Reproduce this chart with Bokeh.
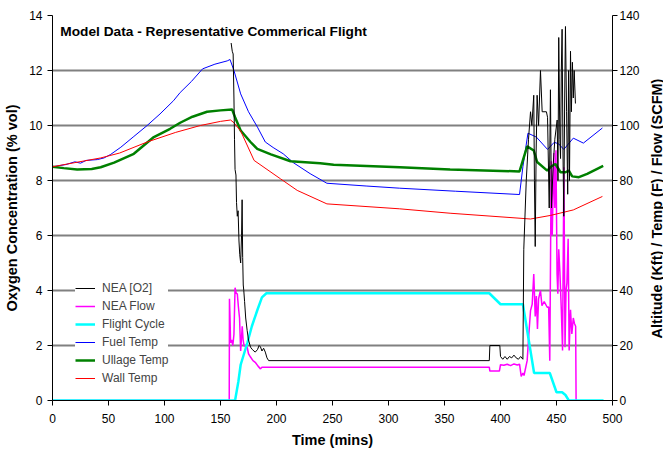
import math
from bokeh.plotting import figure
from bokeh.models import Range1d, LinearAxis, FixedTicker, Label, Legend, LegendItem
from bokeh.embed import file_html
from bokeh.resources import INLINE

# ---------------- data (time in minutes) ----------------
TIME_TICKS = list(range(0, 501, 50))
O2_TICKS = list(range(0, 15, 2))
RIGHT_TICKS = list(range(0, 141, 20))

TITLE = "Model Data - Representative Commerical Flight"
RIGHT_LABEL = "Altitude (Kft) / Temp (F) / Flow (SCFM)"

# NEA [O2]  (% vol, left axis)
NEA_O2 = [(159.5, 13.0), (160.5, 12.7), (161.3, 12.6), (162, 11.0), (162.5, 9.5), (163, 8.4),
          (163.8, 8.2), (164.3, 7.2), (165, 6.7), (165.7, 6.9), (166.5, 5.8), (167.2, 5.3),
          (168, 5.0), (168.8, 6.0), (169.3, 7.3), (169.8, 5.2), (170.3, 4.2), (170.8, 4.0),
          (171.5, 3.6), (172.5, 3.0), (173.8, 2.55), (175, 2.2), (176.8, 1.94), (178.5, 1.85),
          (181, 1.76), (183, 1.85), (184.5, 2.0), (185.7, 1.95), (187, 1.8), (188.5, 1.9),
          (190, 1.76), (191.5, 1.55), (193, 1.45), (390, 1.45), (390.5, 2.0), (399.4, 2.0),
          (400, 1.6), (402, 1.5), (404, 1.6), (406, 1.5), (408, 1.6), (410, 1.55), (412, 1.65),
          (414, 1.55), (416, 1.5), (418, 1.6), (420, 1.5), (420.8, 5.5), (423, 8.0), (425, 9.5),
          (426.8, 10.5), (428, 10.0), (429.7, 11.1), (430.3, 8.0), (431, 5.6), (431.8, 9.0),
          (432.7, 11.1), (434, 10.0), (435.7, 12.0), (437.2, 10.5), (441, 10.5), (442, 10.3),
          (443.5, 7.0), (444.6, 11.3), (445.5, 7.0), (447, 8.5), (448.5, 9.5), (450.6, 10.2),
          (451.3, 8.0), (452, 13.2), (453, 9.5), (453.6, 8.8), (454.3, 12.0), (455, 13.5),
          (455.8, 9.0), (456.5, 6.7), (457.3, 11.0), (458, 13.6), (459, 10.5), (460, 7.5),
          (460.8, 12.0), (461.6, 8.0), (462.5, 12.7), (463.3, 10.5), (464.2, 12.3), (465, 11.0),
          (465.8, 12.0), (466.9, 10.8)]

# NEA Flow (SCFM, right axis)
NEA_FLOW = [(0, 0), (157.8, 0), (158, 37), (158.5, 30), (159, 21), (160, 22), (161, 20), (162, 24),
            (163, 41), (164, 39), (165, 38.8), (166, 34), (167, 30), (168, 18), (169.4, 27),
            (170.2, 22), (171, 20), (173.8, 19.4), (175, 17), (176.8, 15.8), (179, 14.5),
            (181, 13.9), (183.5, 12.5), (185.7, 11.5), (187, 12.1), (390, 12.1), (390.5, 10.7),
            (399, 10.7), (400, 13), (403, 12.8), (406, 13.2), (409, 12.7), (412, 13.3), (415, 12.9),
            (417, 13.2), (418.5, 8.8), (420, 10), (421, 9.1), (423.8, 14.5), (425.3, 24),
            (426.8, 32.7), (428.3, 35), (429.7, 46), (431, 30.6), (432, 38), (433, 26), (434, 37),
            (435.7, 40), (437, 34.5), (439, 36), (441.7, 33.9), (443, 34), (444, 14.5), (445.3, 87),
            (446.2, 60), (447.6, 90), (448.5, 70), (449.5, 91), (450.5, 46), (451.2, 38.8),
            (452, 55), (453, 47), (454.3, 33), (455.4, 18.2), (456.6, 84.8), (457.6, 19.4),
            (458.5, 40), (459.3, 42.7), (460.4, 58.8), (461.3, 18.2), (462.5, 33), (463.7, 24.2),
            (465, 30), (466, 28), (467.1, 27), (467.5, 0)]

# Flight Cycle (altitude, Kft, right axis)
FLIGHT_CYCLE = [(0, 0), (163, 0), (166, 7), (168, 13), (171, 17), (174, 21), (178, 27), (183, 33),
                (187, 37.5), (191, 39), (195, 39), (390, 39), (400, 35), (420, 35), (430, 10),
                (444, 10), (450, 3), (455, 3), (458, 2), (461, 0), (492, 0)]

# Fuel Temp (F, right axis)
FUEL_TEMP = [(0, 85), (12, 85.8), (20, 86.8), (25, 86.3), (30, 87.3), (40, 87.6), (46, 88.2),
             (52, 89.5), (61, 92.1), (72, 95.8), (84.5, 100), (96, 104.2), (108, 109), (114, 112),
             (124, 116), (134, 120.6), (145, 122.3), (156, 123.5), (158.5, 124), (162, 120),
             (168, 111.5), (175, 105), (183, 99.4), (190, 94), (197, 92), (206, 89.7), (215, 86.5),
             (230, 82.5), (245, 79), (280, 78), (310, 77.2), (360, 76.1), (417, 74.9), (420, 85),
             (424.5, 97.2), (432, 95.8), (442, 91.3), (448, 93.9), (452, 93.3), (456.5, 91.3),
             (465, 95.4), (474, 93.6), (491, 99.1)]

# Ullage Temp (F, right axis)
ULLAGE_TEMP = [(0, 85), (10, 84.5), (22, 84), (35, 84.2), (43, 84.8), (55, 86.5), (72.6, 89.7),
               (90.5, 95.8), (105, 98.8), (114, 101), (125, 103.2), (138, 105), (150, 105.5),
               (160.4, 105.8), (163, 103), (168, 98.2), (176.8, 94), (182.8, 91.5), (195, 89.5),
               (212.5, 87), (239, 86.3), (251, 85.7), (310, 84.8), (355, 84), (417, 83.3),
               (423.8, 92.4), (429.7, 90.9), (432.7, 86.7), (441.7, 83.6), (445, 85), (449, 86),
               (453.6, 83), (458, 83), (461, 83.6), (464, 81.5), (470, 81.2), (477.4, 82.4),
               (491.7, 85.3)]

# Wall Temp (F, right axis)
WALL_TEMP = [(0, 85), (20, 86.5), (43, 88.2), (60, 90), (84.5, 94), (110, 97.5), (132, 100),
             (150, 101.5), (159, 102), (162, 101), (168, 98), (180, 87.3), (203.6, 80.6),
             (218.5, 76.4), (245, 71.5), (310, 69.7), (355, 68.1), (426.8, 66), (444.6, 67.3),
             (465, 69.3), (491, 74.2)]

FONT = "Liberation Sans"

# ---------------- figure ----------------
p = figure(width=663, height=454, x_range=Range1d(0, 500), y_range=Range1d(0, 14),
           output_backend="svg", toolbar_location=None,
           min_border_left=52, min_border_right=51, min_border_top=15, min_border_bottom=54)
p.extra_y_ranges = {"right": Range1d(0, 140)}
p.outline_line_color = None
p.background_fill_color = "white"
p.border_fill_color = "white"

p.xgrid.visible = False
p.ygrid.ticker = FixedTicker(ticks=O2_TICKS)
p.ygrid.grid_line_color = "#808080"
p.ygrid.grid_line_width = 2

right_axis = LinearAxis(y_range_name="right")
p.add_layout(right_axis, "right")

p.xaxis.ticker = FixedTicker(ticks=TIME_TICKS)
p.yaxis[0].ticker = FixedTicker(ticks=O2_TICKS)
right_axis.ticker = FixedTicker(ticks=RIGHT_TICKS)

p.xaxis.axis_label = "Time (mins)"
p.yaxis[0].axis_label = "Oxygen Concentration (% vol)"

for ax in [p.xaxis[0], p.yaxis[0], right_axis]:
    ax.axis_line_color = "black"
    ax.axis_line_width = 1
    ax.major_tick_line_color = "black"
    ax.major_tick_in = 0
    ax.major_tick_out = 5
    ax.minor_tick_line_color = None
    ax.major_label_text_font = FONT
    ax.major_label_text_font_size = "12px"
    ax.major_label_text_color = "black"
    ax.axis_label_text_font = FONT
    ax.axis_label_text_font_size = "14.5px"
    ax.axis_label_text_font_style = "bold"
    ax.axis_label_text_color = "black"
p.xaxis.major_label_standoff = 8
p.xaxis.axis_label_standoff = 6
p.yaxis[0].major_label_standoff = 5
p.yaxis[0].axis_label_standoff = 6
right_axis.major_label_standoff = 2


def xs(series):
    return [t for t, _ in series]


def ys(series):
    return [v for _, v in series]


r_flow = p.line(xs(NEA_FLOW), ys(NEA_FLOW), y_range_name="right", line_color="#FF00FF", line_width=1.5)
r_cycle = p.line(xs(FLIGHT_CYCLE), ys(FLIGHT_CYCLE), y_range_name="right", line_color="#00FFFF", line_width=2.5)
r_fuel = p.line(xs(FUEL_TEMP), ys(FUEL_TEMP), y_range_name="right", line_color="#0000FF", line_width=1)
r_ull = p.line(xs(ULLAGE_TEMP), ys(ULLAGE_TEMP), y_range_name="right", line_color="#008000", line_width=2.5)
r_wall = p.line(xs(WALL_TEMP), ys(WALL_TEMP), y_range_name="right", line_color="#FF0000", line_width=1)
r_o2 = p.line(xs(NEA_O2), ys(NEA_O2), line_color="black", line_width=1)

legend = Legend(items=[
    LegendItem(label="NEA [O2]", renderers=[r_o2]),
    LegendItem(label="NEA Flow", renderers=[r_flow]),
    LegendItem(label="Flight Cycle", renderers=[r_cycle]),
    LegendItem(label="Fuel Temp", renderers=[r_fuel]),
    LegendItem(label="Ullage Temp", renderers=[r_ull]),
    LegendItem(label="Wall Temp", renderers=[r_wall]),
], location=(23, 13))
legend.background_fill_color = "white"
legend.background_fill_alpha = 1
legend.border_line_color = None
legend.label_text_font = FONT
legend.label_text_font_size = "12px"
legend.glyph_width = 20
legend.glyph_height = 18
legend.label_height = 18
legend.spacing = 0
legend.padding = 9
legend.margin = 0
legend.label_standoff = 7
p.add_layout(legend)

title = Label(x=7, y=13.43, text=TITLE, text_font=FONT, text_font_size="13.7px",
              text_font_style="bold", text_baseline="middle", text_color="black")
p.add_layout(title)

# right-hand axis title, reading bottom-to-top like the left one (placed in the right side panel)
right_title = Label(x=14, y=192, x_units="screen", y_units="screen", text=RIGHT_LABEL,
                    angle=math.pi / 2, text_font=FONT, text_font_size="14.5px",
                    text_font_style="bold", text_align="center", text_baseline="middle",
                    text_color="black")
p.add_layout(right_title, "right")

open("out.html", "w").write(file_html(p, INLINE))
